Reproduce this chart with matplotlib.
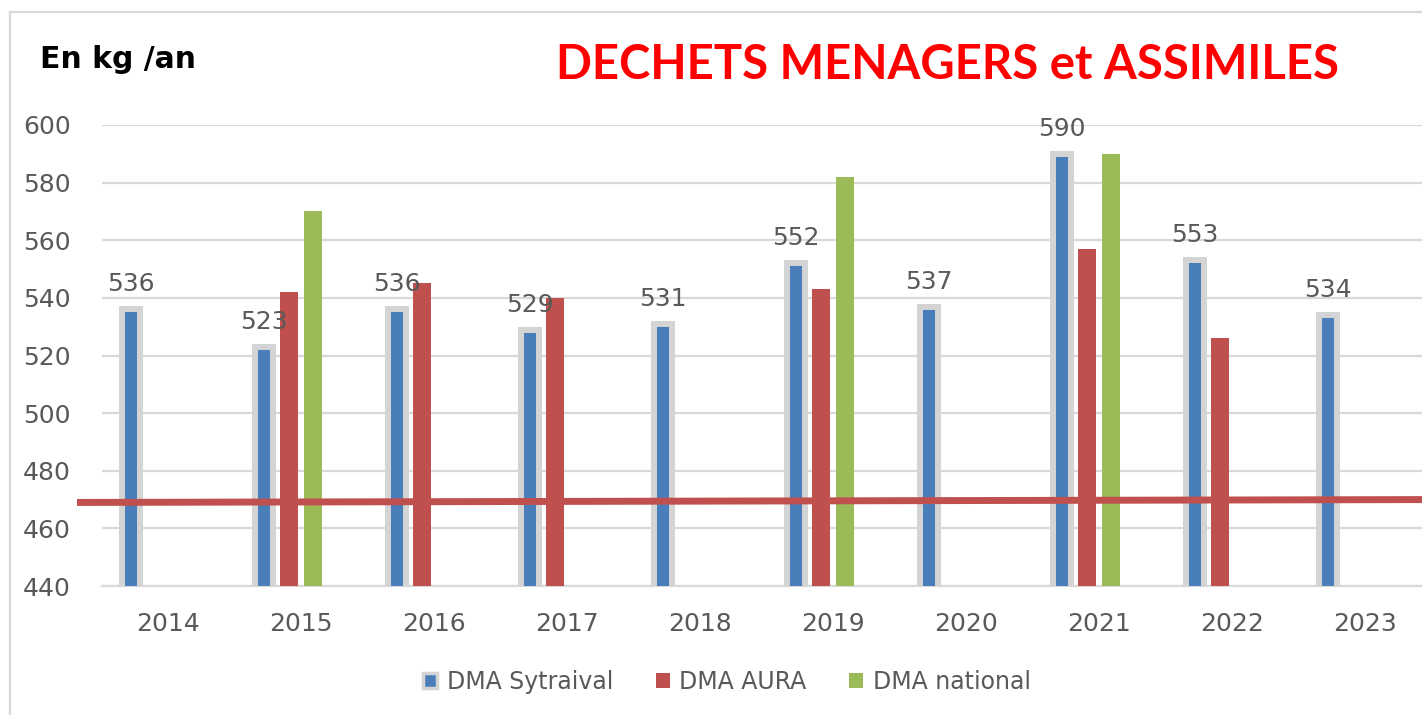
import numpy as np
import matplotlib
matplotlib.use("Agg")
import matplotlib.pyplot as plt
from matplotlib.patches import Patch, Rectangle

# data
years = ["2014", "2015", "2016", "2017", "2018", "2019", "2020", "2021", "2022", "2023"]
dma_sytraival = [536, 523, 536, 529, 531, 552, 537, 590, 553, 534]
dma_aura = [None, 542, 545, 540, None, 543, None, 557, 526, None]
dma_national = [None, 570, None, None, None, 582, None, 590, None, None]
target_line = [469, 470]  # red reference line, left end / right end

BLUE = "#4a7ebb"
RED = "#c0504d"
GREEN = "#9bbb59"
EDGE = "#d4d4d4"
GRID = "#d9d9d9"
TXT = "#595959"

W, H = 1422, 715
fig = plt.figure(figsize=(W / 100, H / 100), dpi=100)
ax = fig.add_axes([101.5 / W, 1 - 586 / H, 1330 / W, 461 / H])

x = np.arange(len(years))
slot = 24.5 / 133
bw = 18 / 133


def draw(series, offset, color, **kw):
    xs = [xi + offset for xi, v in zip(x, series) if v is not None]
    vs = [v for v in series if v is not None]
    return ax.bar(xs, vs, width=bw, color=color, zorder=3, **kw)


draw(dma_sytraival, -1.5 * slot, BLUE, edgecolor=EDGE, linewidth=4.3)
draw(dma_aura, -0.5 * slot, RED, linewidth=0)
draw(dma_national, 0.5 * slot, GREEN, linewidth=0)

# value labels above the Sytraival bars
for xi, v in zip(x, dma_sytraival):
    ax.text(xi - 1.5 * slot, v + 4.5, str(v), ha="center", va="bottom",
            fontsize=18, color=TXT, zorder=5)

# red reference line, starts a bit left of the plot
x_left = (77 - 168) / 133
x_right = len(years) - 0.5
ax.plot([x_left, x_right], target_line, color=RED, lw=5, zorder=4,
        clip_on=False, solid_capstyle="butt")

ax.set_ylim(440, 600)
ax.set_xlim(-0.5, len(years) - 0.5)
ax.set_yticks(range(440, 601, 20))
ax.set_xticks(x)
ax.set_xticklabels(years)
ax.tick_params(axis="both", length=0, labelsize=18, labelcolor=TXT)
ax.tick_params(axis="y", pad=22)
ax.tick_params(axis="x", pad=19)
ax.grid(axis="y", color=GRID, lw=1.6, zorder=0)
for s in ["top", "right", "left"]:
    ax.spines[s].set_visible(False)
ax.spines["bottom"].set_color(GRID)
ax.spines["bottom"].set_linewidth(1.6)

# outer frame
fig.patches.append(Rectangle((10 / W, -0.05), 1.1, 1 - 12 / H + 0.05,
                             transform=fig.transFigure, fill=False,
                             edgecolor=GRID, lw=1.6))

fig.text(40 / W, 1 - 59 / H, "En kg /an", ha="left", va="center",
         fontsize=21.5, fontweight="bold", color="black")
fig.text(948 / W, 1 - 65 / H, "DECHETS MENAGERS et ASSIMILES", ha="center",
         va="center", fontsize=34, fontweight="bold", color="#ff0000",
         family="Lato")

handles = [Patch(facecolor=BLUE, edgecolor=EDGE, lw=2.5),
           Patch(facecolor=RED), Patch(facecolor=GREEN)]
fig.legend(handles, ["DMA Sytraival", "DMA AURA", "DMA national"],
           loc="center", bbox_to_anchor=(727 / W, 1 - 682 / H), ncol=3,
           frameon=False, fontsize=17, labelcolor=TXT,
           handlelength=0.6, handleheight=0.6, handletextpad=0.4,
           columnspacing=1.8)

fig.savefig("out.png", dpi=100)
